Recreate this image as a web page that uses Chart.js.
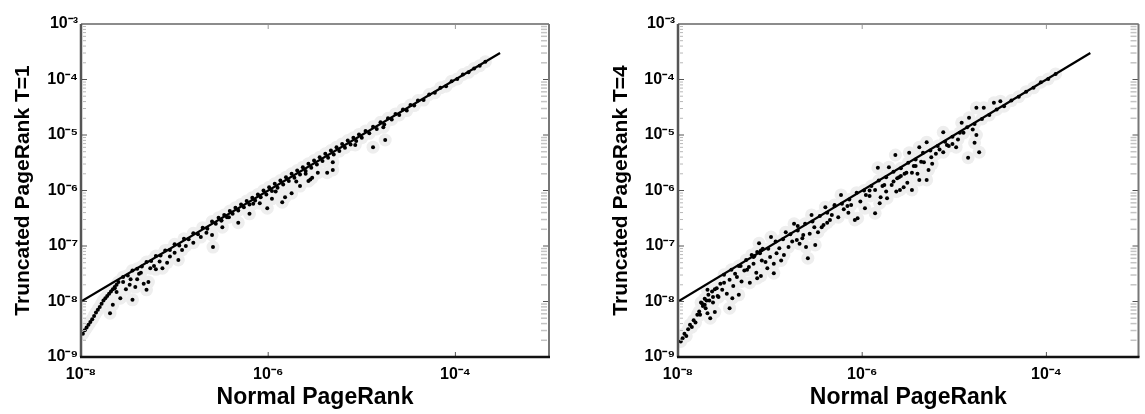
<!DOCTYPE html>
<html>
<head>
<meta charset="utf-8">
<style>
  html, body { margin: 0; padding: 0; background: #fff; }
  .panel { position: absolute; top: 0; height: 414px; filter: blur(0.6px); }
  #left { left: 0; width: 572px; }
  #right { left: 572px; width: 573px; }
</style>
<script src="https://cdn.jsdelivr.net/npm/chart.js@4"></script>
</head>
<body>
<div class="panel" id="left"><canvas id="chartT1"></canvas></div>
<div class="panel" id="right"><canvas id="chartT4"></canvas></div>
<script>
// all points are log10 values
const t1LogX = [
  -7.98,-7.96,-7.94,-7.92,-7.90,-7.88,-7.86,-7.84,-7.82,-7.80,
  -7.78,-7.76,-7.74,-7.72,-7.70,-7.68,-7.66,-7.64,-7.62,-7.60,
  -7.66,-7.69,-7.58,-7.45,-7.48,-7.30,-7.42,-7.28,-7.13,-6.96,
  -6.92,-6.60,-6.59,-6.49,-7.64,-7.55,-7.62,-7.38,-7.22,-7.05,
  -7.55,-7.50,-7.45,-7.40,-7.35,-7.30,-7.25,-7.20,-7.15,-7.10,
  -7.05,-7.00,-6.95,-6.90,-6.85,-6.80,-6.75,-6.70,-6.65,-6.60,
  -6.56,-6.53,-6.50,-6.47,-6.44,-6.41,-6.38,-6.35,-6.32,-6.29,
  -6.26,-6.23,-6.20,-6.17,-6.14,-6.11,-6.08,-6.05,-6.02,-5.99,
  -5.96,-5.93,-5.90,-5.87,-5.84,-5.81,-5.78,-5.75,-5.72,-5.69,
  -5.66,-5.63,-5.60,-5.57,-5.54,-5.51,-5.48,-5.45,-5.42,-5.39,
  -5.36,-5.33,-5.30,-5.27,-5.24,-5.21,-5.18,-5.15,-5.12,-5.09,
  -5.06,-5.03,-5.00,-4.96,-4.92,-4.88,-4.84,-4.80,-4.76,-4.72,
  -4.68,-4.64,-4.60,-4.56,-4.52,-4.48,-4.44,-4.40,-4.34,-4.28,
  -4.22,-4.16,-4.10,-4.04,-3.98,-3.92,-3.86,-3.80,-3.74,-3.68,
  -6.01,-6.09,-5.96,-5.85,-5.75,-5.82,-5.57,-5.53,-5.47,-5.37,
  -5.31,-5.31,-5.07,-4.88,-4.75,-4.77,-5.55,-6.32,-6.20,-5.66,
  -7.52,-7.47,-7.40,-7.36,-7.33,-7.26,-7.20,-7.16,-7.08,-7.00,
  -6.88,-6.80,-6.72,-6.66,-6.50,-6.42,-6.16,-5.92,-5.70,-5.60
];
const t1LogY = [
  -8.58,-8.52,-8.47,-8.42,-8.37,-8.32,-8.26,-8.20,-8.15,-8.10,
  -8.04,-7.98,-7.94,-7.90,-7.86,-7.82,-7.78,-7.74,-7.70,-7.65,
  -8.06,-8.21,-7.94,-7.97,-7.70,-7.79,-7.74,-7.65,-7.40,-7.25,
  -7.07,-6.80,-7.02,-6.66,-7.76,-7.65,-7.83,-7.50,-7.36,-7.19,
  -7.56,-7.53,-7.44,-7.41,-7.37,-7.29,-7.27,-7.18,-7.17,-7.08,
  -7.07,-6.97,-6.99,-6.87,-6.88,-6.77,-6.79,-6.67,-6.69,-6.56,
  -6.60,-6.49,-6.54,-6.44,-6.48,-6.37,-6.42,-6.31,-6.36,-6.25,
  -6.30,-6.19,-6.25,-6.13,-6.18,-6.07,-6.12,-6.00,-6.07,-5.94,
  -6.01,-5.88,-5.95,-5.82,-5.89,-5.76,-5.83,-5.70,-5.77,-5.64,
  -5.71,-5.58,-5.65,-5.52,-5.59,-5.46,-5.53,-5.40,-5.47,-5.34,
  -5.41,-5.28,-5.35,-5.22,-5.29,-5.16,-5.23,-5.10,-5.17,-5.05,
  -5.11,-4.99,-5.05,-4.93,-4.97,-4.85,-4.89,-4.77,-4.81,-4.70,
  -4.72,-4.62,-4.64,-4.54,-4.56,-4.46,-4.47,-4.38,-4.37,-4.27,
  -4.24,-4.15,-4.12,-4.03,-3.99,-3.91,-3.87,-3.80,-3.75,-3.68,
  -6.32,-6.23,-6.15,-6.21,-6.05,-6.12,-5.83,-5.77,-5.68,-5.68,
  -5.63,-5.49,-5.18,-5.22,-5.09,-4.86,-5.80,-6.58,-6.42,-5.92,
  -7.78,-7.60,-7.60,-7.48,-7.68,-7.40,-7.42,-7.28,-7.30,-7.12,
  -7.00,-6.94,-6.84,-6.76,-6.54,-6.48,-6.24,-6.02,-5.84,-5.70
];
const t4LogX = [
  -7.97,-7.95,-7.93,-7.91,-7.89,-7.87,-7.85,-7.83,-7.81,-7.79,
  -7.77,-7.75,-7.73,-7.71,-7.69,-7.67,-7.65,-7.63,-7.60,-7.57,
  -7.76,-7.68,-7.60,-7.44,-7.71,-7.74,-7.41,-7.34,-7.68,-7.58,
  -7.52,-7.62,-7.44,-7.36,-7.14,-7.23,-7.25,-7.10,-7.05,-6.93,
  -6.85,-6.71,-6.61,-6.51,-6.59,-6.48,-6.35,-6.26,-6.08,-6.96,
  -6.99,-7.12,-6.83,-6.55,-6.40,-6.23,-5.59,-5.55,-5.51,-5.73,
  -5.81,-5.86,-6.05,-5.96,-5.86,-5.80,-5.38,-5.30,-5.46,-5.46,
  -5.28,-5.33,-5.25,-5.12,-4.98,-4.85,-4.73,-4.76,-4.78,-5.83,
  -5.71,-5.64,-5.49,-5.38,-5.30,-5.12,-4.92,-4.84,-4.76,-4.68,
  -4.57,-4.50,-7.20,-7.17,-7.14,-7.11,-7.08,-7.32,-6.70,-6.30,
  -7.50,-7.42,-7.34,-7.26,-7.18,-7.10,-7.02,-6.94,-6.86,-6.78,
  -6.70,-6.62,-6.54,-6.46,-6.38,-6.30,-6.22,-6.14,-6.06,-5.98,
  -5.90,-5.82,-5.74,-5.66,-5.58,-5.50,-5.42,-5.34,-5.26,-5.18,
  -5.10,-5.02,-4.94,-4.86,-4.78,-4.70,-4.62,-4.54,-4.46,-4.38,
  -4.30,-4.22,-4.14,-4.06,-3.98,-3.90,-6.74,-6.42,-6.16,-5.92,
  -5.76,-5.62,-5.54,-5.42,-5.20,-5.06,-5.68,-5.60,-6.15,-6.65,
  -7.70,-7.66,-7.62,-7.56,-7.54,-7.50,-7.47,-7.40,-7.38,-7.31,
  -7.28,-7.22,-7.18,-7.15,-7.09,-7.03,-7.00,-6.96,-6.90,-6.88,
  -6.80,-6.76,-6.68,-6.64,-6.57,-6.52,-6.44,-6.38,-6.33,-6.20,
  -6.12,-6.02,-5.97,-5.92,-5.78,-5.74,-5.66,-5.63,-5.58,-5.52,
  -5.44,-5.40,-5.36,-5.24,-5.16,-5.08,-5.02,-4.96,-4.90,-4.80
];
const t4LogY = [
  -8.72,-8.66,-8.58,-8.62,-8.50,-8.42,-8.46,-8.34,-8.38,-8.24,
  -8.18,-8.02,-8.08,-7.95,-7.98,-7.88,-8.30,-7.82,-7.78,-7.90,
  -8.24,-8.21,-8.19,-8.12,-8.06,-8.03,-7.94,-7.88,-7.79,-7.76,
  -7.79,-7.92,-7.61,-7.56,-7.58,-7.38,-7.43,-7.54,-7.29,-7.13,
  -7.16,-6.89,-7.02,-6.98,-7.22,-6.75,-6.53,-6.48,-6.53,-7.49,
  -6.84,-6.95,-6.75,-6.44,-6.30,-6.08,-5.99,-5.94,-5.86,-6.14,
  -6.23,-6.41,-6.50,-6.08,-5.99,-6.12,-5.81,-5.81,-5.99,-5.68,
  -5.63,-5.49,-5.40,-5.31,-5.22,-5.41,-5.31,-5.00,-5.14,-5.59,
  -5.58,-5.36,-5.32,-5.22,-5.13,-4.95,-4.78,-4.69,-4.51,-4.51,
  -4.42,-4.39,-7.16,-7.18,-7.11,-7.13,-7.05,-7.36,-6.64,-6.26,
  -7.52,-7.43,-7.36,-7.25,-7.20,-7.08,-7.05,-6.92,-6.88,-6.79,
  -6.72,-6.60,-6.56,-6.46,-6.40,-6.28,-6.24,-6.16,-6.04,-6.00,
  -5.92,-5.82,-5.76,-5.66,-5.60,-5.50,-5.44,-5.32,-5.28,-5.20,
  -5.12,-5.03,-4.96,-4.86,-4.80,-4.71,-4.64,-4.54,-4.48,-4.38,
  -4.31,-4.22,-4.15,-4.05,-3.99,-3.90,-6.60,-6.62,-6.28,-6.10,
  -5.90,-5.78,-5.70,-5.56,-5.34,-5.20,-5.90,-5.76,-6.40,-6.86,
  -8.12,-7.98,-8.02,-7.92,-7.68,-7.66,-7.86,-7.72,-7.50,-7.64,
  -7.44,-7.66,-7.32,-7.48,-7.26,-7.40,-7.20,-7.32,-7.04,-7.26,
  -7.02,-6.92,-6.96,-6.80,-6.78,-6.66,-6.66,-6.58,-6.44,-6.34,
  -6.26,-6.20,-6.32,-6.00,-5.92,-6.02,-5.84,-6.02,-5.74,-5.68,
  -5.56,-5.70,-5.48,-5.52,-5.26,-5.18,-5.16,-5.08,-4.96,-4.90
];
const refLineX = [1e-8, 3e-4];
const refLineY = [1e-8, 3e-4];
const xTicks = [1e-8, 1e-6, 1e-4];
const yTicks = [1e-9, 1e-8, 1e-7, 1e-6, 1e-5, 1e-4, 1e-3];
const xTickLabels = ['10⁻⁸', '10⁻⁶', '10⁻⁴'];
const yTickLabels = ['10⁻⁹', '10⁻⁸', '10⁻⁷', '10⁻⁶', '10⁻⁵', '10⁻⁴', '10⁻³'];
const xTitle = 'Normal PageRank';

const FONT = '"Liberation Sans", Arial, sans-serif';

// ── Frame and inward ticks, MATLAB style ─────────────────────────
const framePlugin = {
  id: 'frame',
  afterDatasetsDraw(chart) {
    const { ctx, chartArea: a, scales } = chart;
    const side = (color, width, x1, y1, x2, y2) => {
      ctx.strokeStyle = color;
      ctx.lineWidth = width;
      ctx.beginPath();
      ctx.moveTo(x1, y1);
      ctx.lineTo(x2, y2);
      ctx.stroke();
    };
    ctx.save();
    // faint minor ticks on the y axis
    for (let d = -9; d < -3; d++) {
      for (let m = 2; m < 10; m++) {
        const y = scales.y.getPixelForValue(m * Math.pow(10, d));
        side('#b8b8b8', 1, a.left + 2, y, a.left + 5, y);
        side('#c4c4c4', 1.5, a.right - 8, y, a.right - 2, y);
      }
    }
    yTicks.forEach(v => {
      const y = scales.y.getPixelForValue(v);
      side('#555', 1, a.left, y, a.left + 6, y);
      side('#555', 1, a.right - 6, y, a.right, y);
    });
    xTicks.forEach(v => {
      const x = scales.x.getPixelForValue(v);
      side('#555', 1, x, a.bottom, x, a.bottom - 5);
      side('#999', 1, x, a.top, x, a.top + 5);
    });
    side('#8c8c8c', 2, a.left, a.top, a.right, a.top);
    side('#777', 2, a.right, a.top, a.right, a.bottom);
    side('#555', 2.5, a.left, a.top, a.left, a.bottom);
    side('#111', 2.5, a.left - 1, a.bottom, a.right + 1, a.bottom);
    ctx.restore();
  },
};

function makeChart(id, logX, logY, yTitle, leftWidth, rightPad, titleInset) {
  const points = logX.map((v, i) => ({ x: Math.pow(10, v), y: Math.pow(10, logY[i]) }));
  const refLine = refLineX.map((v, i) => ({ x: v, y: refLineY[i] }));
  return new Chart(document.getElementById(id), {
    type: 'scatter',
    data: {
      datasets: [
        {
          data: refLine,
          showLine: true,
          borderColor: '#000',
          borderWidth: 2.2,
          pointRadius: 0,
        },
        {
          data: points,
          backgroundColor: '#000',
          borderWidth: 0,
          pointRadius: 2,
        },
        {
          // pale smudge round every point, as in the scanned original
          data: points,
          backgroundColor: '#eeeeee',
          borderWidth: 0,
          pointRadius: 6.5,
        },
      ],
    },
    options: {
      responsive: true,
      maintainAspectRatio: false,
      animation: false,
      layout: { padding: { top: 24, right: rightPad, bottom: 0, left: 0 } },
      plugins: { legend: { display: false }, tooltip: { enabled: false } },
      scales: {
        x: {
          type: 'logarithmic',
          min: 1e-8,
          max: 1e-3,
          afterBuildTicks: s => { s.ticks = xTicks.map(value => ({ value })); },
          afterFit: s => { s.height = 57; },
          grid: { display: false, drawTicks: false },
          border: { display: false },
          ticks: {
            autoSkip: false,
            maxRotation: 0,
            padding: 8,
            color: '#000',
            font: { family: FONT, size: 16, weight: 'bold' },
            callback: (v, i) => xTickLabels[i],
          },
          title: {
            display: true,
            text: xTitle,
            color: '#000',
            font: { family: FONT, size: 23, weight: 'bold' },
            padding: { top: 0, bottom: 3 },
          },
        },
        y: {
          type: 'logarithmic',
          min: 1e-9,
          max: 1e-3,
          afterBuildTicks: s => { s.ticks = yTicks.map(value => ({ value })); },
          afterFit: s => { s.width = leftWidth; },
          grid: { display: false, drawTicks: false },
          border: { display: false },
          ticks: {
            autoSkip: false,
            padding: 3,
            color: '#000',
            font: { family: FONT, size: 16, weight: 'bold' },
            callback: (v, i) => yTickLabels[i],
          },
          title: {
            display: true,
            text: yTitle,
            color: '#000',
            font: { family: FONT, size: 21, weight: 'bold' },
            padding: { top: titleInset, bottom: 0 },
          },
        },
      },
    },
    plugins: [framePlugin],
  });
}

makeChart('chartT1', t1LogX, t1LogY, 'Truncated PageRank T=1', 81, 23, 11);
makeChart('chartT4', t4LogX, t4LogY, 'Truncated PageRank T=4', 106, 1, 37);
</script>
</body>
</html>
